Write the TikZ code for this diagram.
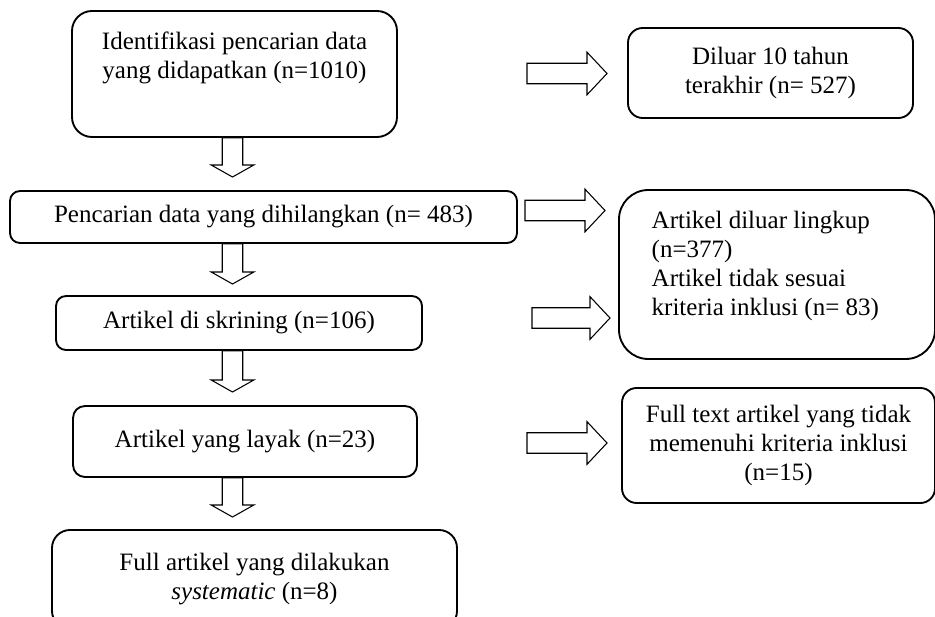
\documentclass[tikz,border=0pt]{standalone}
\usepackage{fontspec}
\setmainfont{Liberation Serif}
\usetikzlibrary{calc}

\newcommand{\hollowarrow}[3][9pt]{%
  \coordinate (ha-s) at #2;
  \coordinate (ha-t) at #3;
  \coordinate (ha-h) at ($(ha-t)!#1!(ha-s)$);
  \draw[arrowline] ($(ha-s)!7.7pt!90:(ha-t)$) -- ($(ha-h)!7.7pt!90:(ha-t)$)
    -- ($(ha-h)!16pt!90:(ha-t)$) -- (ha-t) -- ($(ha-h)!16pt!-90:(ha-t)$)
    -- ($(ha-h)!7.7pt!-90:(ha-t)$) -- ($(ha-s)!7.7pt!-90:(ha-t)$) -- cycle;}

\begin{document}
\begin{tikzpicture}[x=0.75pt,y=-0.75pt,font=\fontsize{18.75}{21.75}\selectfont,
  box/.style={draw,line width=1.4pt,rounded corners=#1,inner sep=0pt},
  box/.default=8pt,
  arrowline/.style={line width=0.8pt,line join=miter}]

\useasboundingbox (0,0) rectangle (935,617);
\clip (0,0) rectangle (935,617);

%kolom kiri
\node[box=15pt,minimum width=243.75pt,minimum height=94.5pt] (ident) at (234.5,74) {};
\node[align=center] (identtext) at (234.5,57.5) {Identifikasi pencarian data\\yang didapatkan (n=1010)};
\node[box=7.5pt,minimum width=380.25pt,minimum height=39pt] (cari) at (263.5,217) {Pencarian data yang dihilangkan (n= 483)};
\node[box=7.5pt,minimum width=274.5pt,minimum height=40.5pt] (skrining) at (239,323) {Artikel di skrining (n=106)};
\node[box=9pt,minimum width=258pt,minimum height=53.25pt] (layak) at (245,441.5) {Artikel yang layak (n=23)};
\node[box=13.5pt,minimum width=303.75pt,minimum height=74.25pt,align=center] (full) at (254.5,579.5) {Full artikel yang dilakukan\\\textit{systematic} (n=8)};

%kolom kanan
\node[box=11pt,minimum width=213.75pt,minimum height=67.5pt,align=center] (diluar) at (770.5,73) {Diluar 10 tahun\\terakhir (n= 527)};
\node[box=22pt,minimum width=237pt,minimum height=126.75pt] (lingkup) at (777,274.5) {};
\node[align=left,anchor=west] (lingkuptext) at (647,265.5) {Artikel diluar lingkup\\(n=377)\\Artikel tidak sesuai\\kriteria inklusi (n= 83)};
\node[box=11pt,minimum width=234.75pt,minimum height=86.25pt,align=center] (fulltext) at (778.5,445.5) {Full text artikel yang tidak\\memenuhi kriteria inklusi\\(n=15)};

%panah ke bawah
\coordinate (a1) at (232.5,177);
\coordinate (a2) at (232.5,284);
\coordinate (a3) at (232.5,392);
\coordinate (a4) at (232.5,517);
\hollowarrow{(a1 |- ident.south)}{(a1)}
\hollowarrow{(a2 |- cari.south)}{(a2)}
\hollowarrow{(a3 |- skrining.south)}{(a3)}
\hollowarrow{(a4 |- layak.south)}{(a4)}

%panah ke kanan
\coordinate (b1s) at (527,73.5);
\coordinate (b1t) at (607,73.5);
\coordinate (b2s) at (525,210.5);
\coordinate (b2t) at (605,210.5);
\coordinate (b3s) at (532,318);
\coordinate (b3t) at (610,318);
\coordinate (b4s) at (527,443);
\coordinate (b4t) at (607,443);
\hollowarrow[15pt]{(b1s)}{(b1t)}
\hollowarrow[15pt]{(b2s)}{(b2t)}
\hollowarrow[15pt]{(b3s)}{(b3t)}
\hollowarrow[15pt]{(b4s)}{(b4t)}

\end{tikzpicture}
\end{document}
